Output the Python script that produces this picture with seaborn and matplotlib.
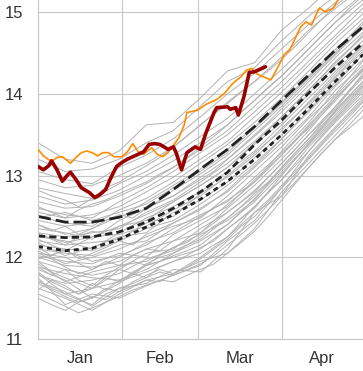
import matplotlib
matplotlib.use("Agg")
import matplotlib.pyplot as plt
import numpy as np
import pandas as pd
import seaborn as sns

# ---------------- data ----------------
month_labels = ["Jan", "Feb", "Mar", "Apr"]
month_starts = [0, 31, 59, 90, 120]
month_mids = [15.5, 45, 74.5, 105]
y_ticks = [11, 12, 13, 14, 15]

grid_days = [0, 10, 20, 30, 40, 50, 60, 70, 80, 90, 100, 110, 120]
gray_rows = [
    [11.62, 11.50, 11.35, 11.55, 11.72, 11.80, 11.95, 12.05, 12.35, 12.80, 13.15, 13.50, 13.85],
    [11.70, 11.58, 11.40, 11.62, 11.68, 11.85, 11.82, 12.10, 12.55, 12.75, 13.25, 13.60, 13.95],
    [11.75, 11.42, 11.55, 11.50, 11.65, 11.78, 11.90, 12.20, 12.45, 12.85, 13.30, 13.66, 13.98],
    [11.80, 11.55, 11.62, 11.70, 11.82, 11.95, 12.05, 12.25, 12.62, 12.95, 13.35, 13.70, 14.05],
    [11.85, 11.72, 11.50, 11.68, 11.90, 12.00, 12.10, 12.35, 12.60, 13.00, 13.40, 13.75, 14.10],
    [11.88, 11.80, 11.75, 11.72, 11.85, 12.05, 12.20, 12.40, 12.72, 13.05, 13.38, 13.80, 14.15],
    [11.92, 11.70, 11.82, 11.90, 11.95, 12.12, 12.28, 12.45, 12.70, 13.10, 13.45, 13.85, 14.20],
    [11.95, 11.85, 11.78, 11.85, 12.05, 12.10, 12.35, 12.55, 12.80, 13.15, 13.50, 13.82, 14.25],
    [12.00, 11.90, 11.88, 11.95, 12.10, 12.20, 12.30, 12.60, 12.88, 13.20, 13.55, 13.95, 14.28],
    [12.02, 11.95, 11.92, 12.05, 12.00, 12.28, 12.45, 12.62, 12.95, 13.25, 13.62, 13.98, 14.32],
    [12.05, 12.00, 11.85, 12.00, 12.18, 12.30, 12.50, 12.70, 12.92, 13.30, 13.65, 14.05, 14.35],
    [12.08, 11.92, 12.00, 12.10, 12.25, 12.38, 12.48, 12.75, 13.05, 13.35, 13.70, 14.00, 14.40],
    [12.10, 12.05, 12.02, 12.15, 12.20, 12.42, 12.60, 12.80, 13.10, 13.40, 13.72, 14.10, 14.42],
    [12.15, 12.10, 12.08, 12.20, 12.35, 12.45, 12.65, 12.88, 13.15, 13.45, 13.80, 14.15, 14.48],
    [12.18, 12.02, 12.12, 12.25, 12.30, 12.55, 12.70, 12.92, 13.22, 13.50, 13.85, 14.20, 14.52],
    [12.20, 12.15, 12.18, 12.22, 12.42, 12.50, 12.78, 12.98, 13.25, 13.58, 13.88, 14.22, 14.55],
    [12.25, 12.20, 12.10, 12.30, 12.48, 12.62, 12.80, 13.05, 13.30, 13.62, 13.95, 14.28, 14.60],
    [12.28, 12.18, 12.25, 12.38, 12.45, 12.68, 12.88, 13.10, 13.38, 13.65, 14.00, 14.35, 14.65],
    [12.30, 12.25, 12.30, 12.35, 12.55, 12.70, 12.92, 13.15, 13.42, 13.72, 14.05, 14.38, 14.70],
    [12.35, 12.30, 12.22, 12.45, 12.60, 12.75, 12.98, 13.20, 13.48, 13.78, 14.10, 14.45, 14.75],
    [12.40, 12.28, 12.35, 12.50, 12.58, 12.82, 13.02, 13.25, 13.55, 13.85, 14.18, 14.50, 14.80],
    [12.45, 12.38, 12.42, 12.48, 12.68, 12.88, 13.08, 13.32, 13.60, 13.90, 14.22, 14.55, 14.85],
    [12.50, 12.42, 12.38, 12.58, 12.72, 12.92, 13.15, 13.38, 13.65, 13.95, 14.28, 14.62, 14.92],
    [12.55, 12.48, 12.52, 12.62, 12.80, 12.98, 13.20, 13.42, 13.72, 14.02, 14.35, 14.68, 14.98],
    [12.60, 12.52, 12.48, 12.68, 12.85, 13.05, 13.28, 13.50, 13.78, 14.08, 14.40, 14.72, 15.05],
    [12.68, 12.60, 12.62, 12.75, 12.90, 13.10, 13.32, 13.55, 13.85, 14.15, 14.48, 14.80, 15.10],
    [12.75, 12.65, 12.70, 12.82, 13.00, 13.18, 13.40, 13.62, 13.92, 14.22, 14.55, 14.88, 15.15],
    [12.85, 12.78, 12.72, 12.90, 13.05, 13.25, 13.48, 13.70, 14.00, 14.30, 14.62, 14.95, 15.22],
    [12.95, 12.85, 12.88, 13.00, 13.15, 13.35, 13.62, 13.90, 14.15, 14.45, 14.78, 15.05, 15.30],
    [13.05, 12.95, 12.90, 13.10, 13.25, 13.45, 13.72, 14.00, 14.25, 14.55, 14.85, 15.12, 15.40],
    [13.20, 13.05, 13.08, 13.20, 13.40, 13.55, 13.85, 14.15, 14.32, 14.65, 14.95, 15.20, 15.50],
    [13.40, 13.20, 13.15, 13.30, 13.62, 13.65, 13.95, 14.28, 14.38, 14.78, 15.05, 15.35, 15.60],
    [11.98, 12.08, 11.95, 12.02, 12.15, 12.35, 12.52, 12.68, 12.98, 13.28, 13.58, 13.92, 14.30],
    [12.22, 12.08, 12.25, 12.28, 12.38, 12.58, 12.75, 13.00, 13.28, 13.55, 13.90, 14.25, 14.58],
    [11.78, 11.68, 11.72, 11.80, 11.98, 12.08, 12.22, 12.48, 12.75, 13.08, 13.42, 13.78, 14.12],
    [12.48, 12.55, 12.45, 12.55, 12.65, 12.85, 13.05, 13.28, 13.58, 13.88, 14.20, 14.52, 14.88],
]

fine_days = [0, 5, 10, 15, 20, 25, 30, 35, 40, 45, 50, 55, 60, 65, 70, 75, 80, 85, 90, 95,
             100, 105, 110, 115, 120]
fine_rows = [
    [11.55, 11.48, 11.40, 11.32, 11.38, 11.45, 11.52, 11.60, 11.66, 11.72, 11.70, 11.78, 11.85,
     11.92, 12.05, 12.18, 12.32, 12.50, 12.70, 12.90, 13.10, 13.28, 13.45, 13.58, 13.72],
    [11.68, 11.60, 11.52, 11.45, 11.50, 11.62, 11.58, 11.70, 11.78, 11.85, 11.80, 11.88, 11.98,
     12.10, 12.22, 12.38, 12.50, 12.68, 12.85, 13.02, 13.20, 13.38, 13.55, 13.72, 13.90],
    [11.82, 11.70, 11.62, 11.55, 11.68, 11.60, 11.72, 11.80, 11.75, 11.88, 11.95, 12.02, 12.12,
     12.20, 12.35, 12.48, 12.62, 12.80, 12.95, 13.12, 13.30, 13.50, 13.68, 13.85, 14.02],
    [11.95, 11.82, 11.75, 11.68, 11.62, 11.72, 11.85, 11.80, 11.92, 12.00, 12.05, 12.15, 12.25,
     12.38, 12.48, 12.62, 12.78, 12.92, 13.10, 13.28, 13.45, 13.62, 13.80, 13.98, 14.15],
    [12.05, 11.98, 11.88, 11.80, 11.85, 11.95, 11.90, 12.02, 12.10, 12.08, 12.20, 12.30, 12.40,
     12.50, 12.65, 12.78, 12.92, 13.08, 13.25, 13.42, 13.60, 13.78, 13.95, 14.12, 14.30],
    [12.12, 12.02, 12.10, 11.98, 12.05, 12.12, 12.20, 12.15, 12.28, 12.35, 12.42, 12.50, 12.58,
     12.70, 12.82, 12.98, 13.12, 13.28, 13.45, 13.62, 13.78, 13.95, 14.12, 14.30, 14.48],
    [11.60, 11.72, 11.65, 11.55, 11.62, 11.75, 11.70, 11.82, 11.90, 11.95, 12.02, 12.08, 12.15,
     12.28, 12.40, 12.55, 12.68, 12.85, 13.02, 13.20, 13.38, 13.55, 13.72, 13.90, 14.08],
    [12.30, 12.22, 12.15, 12.25, 12.32, 12.28, 12.38, 12.45, 12.52, 12.60, 12.68, 12.78, 12.88,
     12.98, 13.10, 13.25, 13.40, 13.55, 13.72, 13.88, 14.05, 14.22, 14.40, 14.55, 14.72],
    [11.88, 11.78, 11.85, 11.72, 11.65, 11.78, 11.88, 11.95, 11.90, 12.02, 12.12, 12.18, 12.30,
     12.42, 12.55, 12.68, 12.82, 12.98, 13.15, 13.32, 13.50, 13.68, 13.85, 14.05, 14.22],
    [12.62, 12.55, 12.48, 12.58, 12.65, 12.70, 12.78, 12.85, 12.92, 13.02, 13.10, 13.22, 13.35,
     13.48, 13.62, 13.78, 13.92, 14.08, 14.22, 14.38, 14.55, 14.72, 14.88, 15.05, 15.20],
    [11.72, 11.62, 11.55, 11.48, 11.42, 11.55, 11.62, 11.68, 11.75, 11.82, 11.78, 11.85, 11.92,
     12.02, 12.15, 12.28, 12.42, 12.58, 12.75, 12.92, 13.10, 13.28, 13.45, 13.62, 13.80],
    [12.40, 12.32, 12.38, 12.28, 12.35, 12.45, 12.52, 12.48, 12.60, 12.68, 12.75, 12.85, 12.95,
     13.05, 13.20, 13.35, 13.50, 13.65, 13.82, 13.98, 14.15, 14.32, 14.48, 14.65, 14.82],
    [11.50, 11.42, 11.35, 11.45, 11.52, 11.48, 11.58, 11.65, 11.72, 11.70, 11.80, 11.90, 12.00,
     12.12, 12.25, 12.40, 12.55, 12.70, 12.88, 13.05, 13.22, 13.40, 13.58, 13.75, 13.92],
    [12.82, 12.75, 12.70, 12.62, 12.72, 12.85, 12.92, 13.02, 13.12, 13.22, 13.35, 13.48, 13.62,
     13.75, 13.88, 14.02, 14.15, 14.28, 14.42, 14.58, 14.75, 14.92, 15.08, 15.22, 15.38],
]

mean_long = [12.50, 12.43, 12.43, 12.49, 12.60, 12.83, 13.08, 13.32, 13.60, 13.92, 14.23, 14.54, 14.82]
mean_mid = [12.26, 12.24, 12.25, 12.31, 12.43, 12.60, 12.80, 13.04, 13.38, 13.68, 14.01, 14.33, 14.62]
mean_short = [12.13, 12.08, 12.11, 12.22, 12.37, 12.52, 12.71, 12.93, 13.20, 13.50, 13.82, 14.16, 14.48]

orange_days = [0, 2, 5, 7, 9, 12, 14, 16, 18, 20, 22, 24, 26, 28, 31, 33, 35, 37, 39, 42, 44,
               46, 48, 52, 54, 55, 59, 62, 66, 69, 72, 75, 77, 79, 81, 83, 86, 88, 91, 93, 95,
               97, 99, 101, 103, 104, 106, 109, 111, 114]
orange_vals = [13.32, 13.24, 13.17, 13.22, 13.23, 13.15, 13.22, 13.28, 13.30, 13.28, 13.24,
               13.28, 13.28, 13.23, 13.23, 13.29, 13.39, 13.29, 13.26, 13.34, 13.26, 13.23,
               13.28, 13.46, 13.62, 13.77, 13.80, 13.87, 13.93, 14.01, 14.13, 14.21, 14.29,
               14.31, 14.24, 14.21, 14.17, 14.29, 14.48, 14.54, 14.68, 14.82, 14.88, 14.84,
               14.99, 15.05, 15.00, 15.05, 15.16, 15.25]

red_days = [0, 2, 4, 5, 7, 9, 11, 12, 14, 16, 17, 19, 21, 23, 25, 27, 29, 31, 33, 35, 37, 39,
            41, 43, 45, 48, 50, 51, 53, 55, 58, 60, 62, 65, 66, 70, 71, 73, 74, 76, 78, 80, 84]
red_vals = [13.11, 13.07, 13.12, 13.18, 13.07, 12.93, 13.01, 13.04, 12.95, 12.85, 12.83,
            12.79, 12.73, 12.77, 12.83, 12.98, 13.11, 13.16, 13.20, 13.23, 13.26, 13.29,
            13.38, 13.39, 13.38, 13.32, 13.35, 13.28, 13.07, 13.28, 13.35, 13.32, 13.52,
            13.77, 13.83, 13.84, 13.81, 13.83, 13.74, 13.96, 14.26, 14.27, 14.33]

# ---------------- tables ----------------
records = [(i, d, v) for i, row in enumerate(gray_rows) for d, v in zip(grid_days, row)]
offset = len(gray_rows)
records += [(offset + i, d, v) for i, row in enumerate(fine_rows) for d, v in zip(fine_days, row)]
gray_df = pd.DataFrame(records, columns=["line", "day", "value"])
mean_df = pd.DataFrame({"day": grid_days, "long": mean_long, "mid": mean_mid, "short": mean_short})
orange_df = pd.DataFrame({"day": orange_days, "value": orange_vals})
red_df = pd.DataFrame({"day": red_days, "value": red_vals})

# ---------------- plot ----------------
sns.set_theme(style="whitegrid")
plt.rcParams["font.family"] = ["Liberation Sans", "DejaVu Sans"]

fig = plt.figure(figsize=(3.63, 3.71), dpi=100)
ax = fig.add_axes([38 / 363, 1 - 339 / 371, 1 - 38 / 363, 339 / 371])

sns.lineplot(data=gray_df, x="day", y="value", units="line", estimator=None,
             color="#b2b2b2", lw=0.7, ax=ax, legend=False, zorder=1)

dash_specs = [("long", (4.7, 1.8)), ("mid", (2.6, 1.45)), ("short", (1.8, 1.45))]
for col, pattern in dash_specs:
    sns.lineplot(data=mean_df, x="day", y=col, color="#222222", lw=2.0, ax=ax,
                 legend=False, zorder=2)
    ax.lines[-1].set_dashes(pattern)

sns.lineplot(data=orange_df, x="day", y="value", color="#ff8c00", lw=1.2, ax=ax,
             legend=False, zorder=3)
sns.lineplot(data=red_df, x="day", y="value", color="#990000", lw=2.6, ax=ax,
             legend=False, zorder=4)

ax.set_xlim(0, 118.2)
ax.set_ylim(11, 15.147)
ax.set_xticks(month_starts)
ax.set_xticklabels([""] * len(month_starts))
ax.set_xticks(month_mids, minor=True)
ax.set_xticklabels(month_labels, minor=True)
ax.set_yticks(y_ticks)
ax.set_yticklabels([str(t) for t in y_ticks])
ax.grid(True, which="major", color="#c8c8c8", lw=0.8)
ax.grid(False, which="minor")
ax.set_axisbelow(True)
ax.tick_params(which="both", length=0, labelsize=12, colors="#333333")
ax.tick_params(axis="x", which="minor", pad=8.5)
ax.tick_params(axis="y", pad=10.5)
ax.set_xlabel("")
ax.set_ylabel("")
for side in ["top", "right"]:
    ax.spines[side].set_visible(False)
for side in ["left", "bottom"]:
    ax.spines[side].set_color("#c8c8c8")
    ax.spines[side].set_linewidth(0.8)

fig.savefig("out.png", dpi=100)
